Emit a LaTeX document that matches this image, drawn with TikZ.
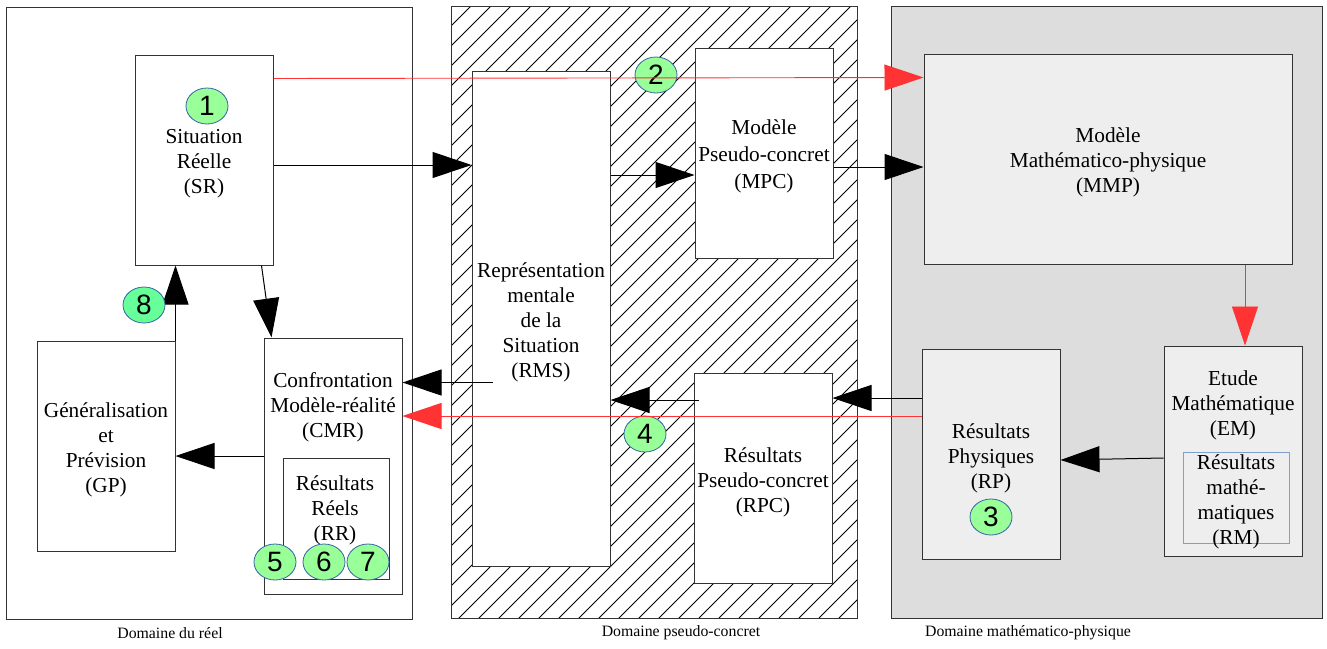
\documentclass[tikz,border=0pt]{standalone}
\usepackage{fontspec}
\setmainfont{Liberation Serif}
\newfontfamily\digitfont{Liberation Sans}
\usetikzlibrary{arrows.meta,shapes.geometric,calc}

\definecolor{frame}{HTML}{333333}
\definecolor{mathbg}{HTML}{DDDDDD}
\definecolor{boxbg}{HTML}{EEEEEE}
\definecolor{marker}{HTML}{99FF99}
\definecolor{markerb}{HTML}{66FF99}
\definecolor{markerline}{HTML}{3465A4}
\definecolor{flow}{HTML}{FF3333}
\definecolor{rmline}{HTML}{7F9FCF}

\newcommand\txtmain{\fontsize{21.3}{25}\selectfont}
\newcommand\txtsmall{\fontsize{15.8}{19}\selectfont}
\newcommand\txtdigit{\digitfont\fontsize{28}{30}\selectfont}

\tikzset{
  domainbox/.style={draw=frame, line width=1pt, inner sep=0pt},
  hatch/.style={draw=black, line width=0.9pt},
  stagebox/.style={draw=frame, line width=1pt, fill=white, inner sep=0pt,
    minimum width=138pt, minimum height=210pt},
  greybox/.style={stagebox, fill=boxbg},
  label/.style={align=center, font=\txtmain, inner sep=0pt},
  domlabel/.style={font=\txtsmall, inner sep=0pt},
  marker/.style={ellipse, draw=markerline, line width=0.8pt, fill=marker,
    minimum width=42pt, minimum height=36pt, inner sep=0pt, font=\txtdigit},
  arr/.style={draw=black, line width=1pt, -{Triangle[length=39pt,width=26pt]}},
  redarr/.style={draw=flow, line width=0.9pt, -{Triangle[length=39pt,width=26pt,fill=flow]}},
}

\begin{document}
\begin{tikzpicture}[x=1pt, y=-1pt]
\useasboundingbox (0,0) rectangle (1327,648);

% the three domains
\node[domainbox, minimum width=406pt, minimum height=612pt] (dreel) at (209,313) {};
\node[domainbox, fill=white, minimum width=406pt, minimum height=612pt] (dpseudo) at (654,312) {};
\node[domainbox, fill=mathbg, minimum width=431pt, minimum height=612pt] (dmath) at (1106.5,312) {};

% hatching of the pseudo-concrete domain
\begin{scope}
  \clip (451,6) rectangle (857,618);
  \foreach \c in {457,477,...,1477}
    \draw[hatch] (\c-618,618) -- (\c-6,6);
\end{scope}
\node[domainbox, minimum width=406pt, minimum height=612pt] at (dpseudo) {};

\node[domlabel] (lreel) at (170,633) {Domaine du réel};
\node[domlabel] (lpseudo) at (681,633) {Domaine pseudo-concret};
\node[domlabel] (lmath) at (1028,633) {Domaine mathématico-physique};

% real domain
\node[stagebox] (SR) at (204,160) {};
\node[label] (SRt) at ([yshift=-4pt]SR.center) {Situation\\Réelle\\(SR)};
\node[stagebox] (GP) at (106,446) {};
\node[label] (GPt) at ([yshift=-4pt]GP.center) {Généralisation\\et\\Prévision\\(GP)};
\node[stagebox, minimum height=256pt] (CMR) at (333,466) {};
\node[label] (CMRt) at (333,407) {Confrontation\\Modèle-réalité\\(CMR)};
\node[stagebox, minimum width=106pt, minimum height=121pt] (RR) at (336,518.5) {};
\node[label] (RRt) at (335,510) {Résultats\\Réels\\(RR)};

% pseudo-concrete domain
\node[stagebox, minimum height=495pt] (RMS) at (541,318.5) {};
\node[label] (RMSt) at ([yshift=-4pt]RMS.center)
  {Représentation\\mentale\\de la\\Situation\\(RMS)};
\node[stagebox] (MPC) at (764,153) {};
\node[label, font=\fontsize{21.3}{27}\selectfont] (MPCt) at ([yshift=-3pt]MPC.center)
  {Modèle\\Pseudo-concret\\(MPC)};
\node[stagebox] (RPC) at (763,478) {};
\node[label] (RPCt) at ([yshift=-4pt]RPC.center) {Résultats\\Pseudo-concret\\(RPC)};

% mathematico-physical domain
\node[greybox, minimum width=368pt] (MMP) at (1108,159) {};
\node[label] (MMPt) at ([yshift=-3pt]MMP.center) {Modèle\\Mathématico-physique\\(MMP)};
\node[greybox] (RP) at (991,454) {};
\node[label] (RPt) at ([yshift=-4pt]RP.center) {Résultats\\Physiques\\(RP)};
\node[greybox] (EM) at (1233,451) {};
\node[label] (EMt) at (1233,405) {Etude\\Mathématique\\(EM)};
\node[draw=rmline, line width=0.9pt, fill=boxbg, minimum width=106pt, minimum height=91pt, inner sep=0pt] (RM) at (1236,497.5) {};
\node[label] (RMt) at (1236,502) {Résultats\\mathé-\\matiques\\(RM)};

% black connectors
\coordinate (rmsOut) at ($(RMS.west)+(21,64)$);
\coordinate (rpcOut) at ($(RPC.west)+(5,-78)$);
\draw[arr] ([yshift=-5pt]SR.east) -- ([yshift=-5pt]SR.east -| RMS.west);
\draw[arr] ([yshift=-22pt]MPC.west -| RMS.east) -- ([yshift=-22pt]MPC.west);
\draw[arr] ([yshift=-8pt]MMP.west -| MPC.east) -- ([yshift=-8pt]MMP.west);
\draw[arr] ([yshift=-7pt]EM.west) -- ([yshift=-6pt]RP.east);
\draw[arr] ([yshift=56pt]RP.west) -- ([yshift=56pt]RP.west -| RPC.east);
\draw[arr] (rpcOut) -- (rpcOut -| RMS.east);
\draw[arr] (rmsOut) -- (rmsOut -| CMR.east);
\draw[arr] ([yshift=10pt]CMR.west) -- ([yshift=10pt]CMR.west -| GP.east);
\draw[arr] (GP.north east) -- (GP.north east |- SR.south);
\draw[arr] ([xshift=-12pt]SR.south east) -- ([xshift=8pt]CMR.north west);

% numbered steps
\node[marker] (c1) at (207,106) {1};
\node[marker] (c2) at (656,75) {2};
\node[marker] (c3) at (991,517) {3};
\node[marker] (c4) at (645,434) {4};
\node[marker] (c5) at (275,562) {5};
\node[marker] (c6) at (324,562) {6};
\node[marker] (c7) at (368,562) {7};
\node[marker, fill=markerb] (c8) at (144,305) {8};

% red connectors
\draw[redarr] ([yshift=-24pt]SR.north east) -- ([yshift=-24pt]MMP.north west);
\draw[redarr] ([xshift=12pt]EM.north |- MMP.south) -- ([xshift=12pt]EM.north);
\draw[redarr] ([yshift=38pt]RP.west) -- ([yshift=38pt]RP.west -| CMR.east);
\end{tikzpicture}
\end{document}
